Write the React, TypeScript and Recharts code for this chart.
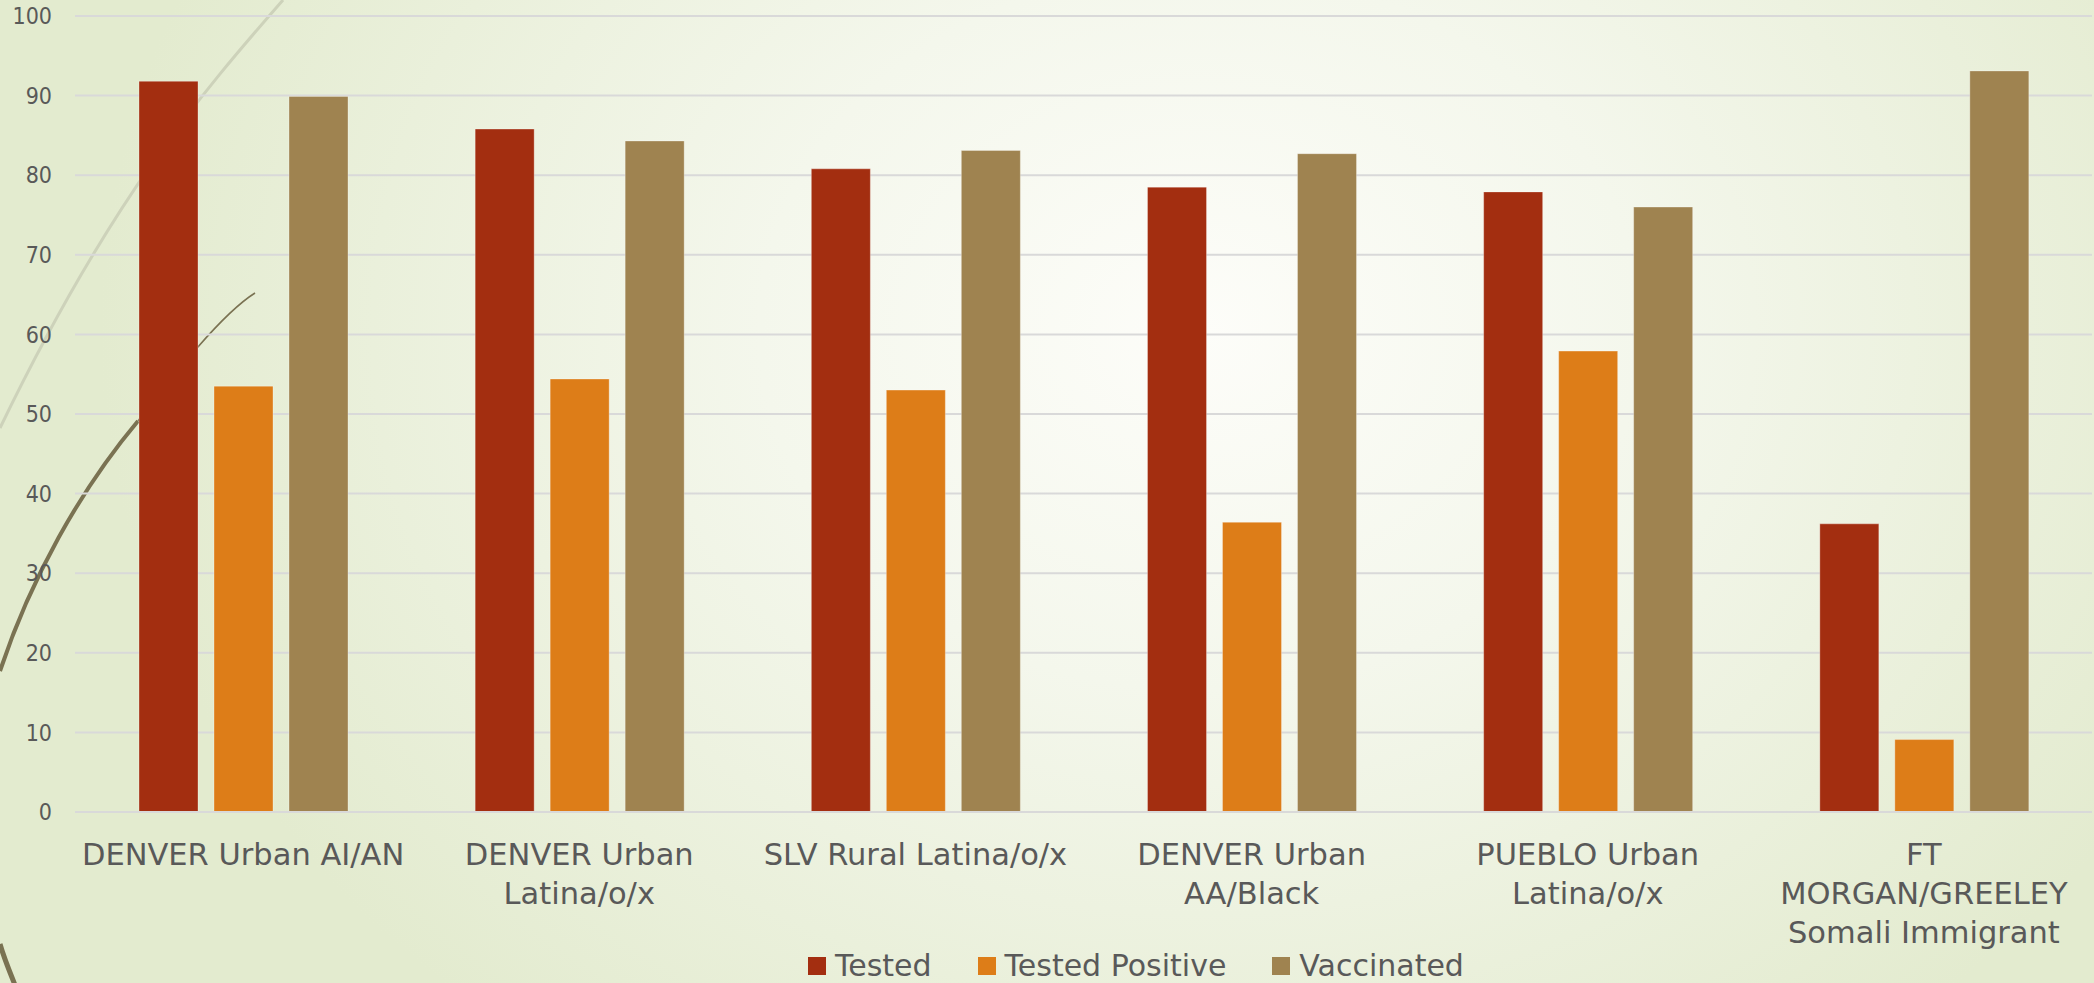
import { Bar, BarChart, CartesianGrid, Legend, XAxis, YAxis } from "recharts";

// Category labels, one entry per line of the wrapped tick text
const categoryLines: string[][] = [
  ["DENVER Urban AI/AN"],
  ["DENVER Urban", "Latina/o/x"],
  ["SLV Rural Latina/o/x"],
  ["DENVER Urban", "AA/Black"],
  ["PUEBLO Urban", "Latina/o/x"],
  ["FT", "MORGAN/GREELEY", "Somali Immigrant"],
];
const categories = categoryLines.map((lines) => lines.join(" "));

const tested = [91.8, 85.8, 80.8, 78.5, 77.9, 36.2];
const testedPositive = [53.5, 54.4, 53.0, 36.4, 57.9, 9.1];
const vaccinated = [89.9, 84.3, 83.1, 82.7, 76.0, 93.1];

const yTicks = [0, 10, 20, 30, 40, 50, 60, 70, 80, 90, 100];

const data = categories.map((name, i) => ({
  name,
  tested: tested[i],
  testedPositive: testedPositive[i],
  vaccinated: vaccinated[i],
}));

const FONT = "'DejaVu Sans', Verdana, sans-serif";
const TEXT = "#595959";
const GRID = "#D9D9D9";

function CategoryTick({ x, y, index }: any) {
  const lines = categoryLines[index] ?? [];
  return (
    <text
      x={x}
      y={y + 53}
      textAnchor="middle"
      fill={TEXT}
      fontSize={30.5}
      fontFamily={FONT}
    >
      {lines.map((line, i) => (
        <tspan key={i} x={x} dy={i === 0 ? 0 : 39}>
          {line}
        </tspan>
      ))}
    </text>
  );
}

function LegendRow({ payload }: any) {
  return (
    <div style={{ display: "flex", alignItems: "center", fontFamily: FONT }}>
      {(payload ?? []).map((p: any, i: number) => (
        <div
          key={p.value}
          style={{ display: "flex", alignItems: "center", marginLeft: i === 0 ? 0 : 46 }}
        >
          <span style={{ width: 18, height: 18, background: p.color, display: "inline-block" }} />
          <span style={{ marginLeft: 9, fontSize: 30, color: TEXT, lineHeight: "36px" }}>
            {p.value}
          </span>
        </div>
      ))}
    </div>
  );
}

// Theme swirls drawn behind the plot
function Swirls() {
  return (
    <svg
      width={2094}
      height={983}
      style={{ position: "absolute", left: 0, top: 0 }}
    >
      <path
        d="M 283 0 C 200 95, 110 200, 0 428"
        fill="none"
        stroke="#CDD2BA"
        strokeWidth={3}
      />
      <path
        d="M 255 293 C 220 315, 170 380, 138 421"
        fill="none"
        stroke="#7A7252"
        strokeWidth={1.6}
      />
      <path
        d="M 138 421 C 80 490, 30 580, 0 671"
        fill="none"
        stroke="#7A7252"
        strokeWidth={4}
      />
      <path
        d="M 0 944 C 4 958, 9 970, 15 985"
        fill="none"
        stroke="#7A7252"
        strokeWidth={5}
      />
    </svg>
  );
}

export default function App() {
  return (
    <div
      style={{
        position: "relative",
        width: 2094,
        height: 983,
        overflow: "hidden",
        background:
          "radial-gradient(ellipse 1100px 900px at 1200px 330px, #fdfdf9 0%, #f4f7ec 40%, #e3ebcf 100%)",
      }}
    >
      <style>{"body{margin:0}"}</style>
      <Swirls />
      <div style={{ position: "absolute", left: 0, top: 0 }}>
        <BarChart
          width={2094}
          height={983}
          data={data}
          margin={{ top: 16, right: 2, bottom: 71, left: 0 }}
          barSize={59}
          barGap={16}
        >
          <CartesianGrid vertical={false} stroke={GRID} strokeWidth={2} />
          <XAxis
            dataKey="name"
            height={100}
            axisLine={{ stroke: GRID, strokeWidth: 2 }}
            tickLine={false}
            tickSize={0}
            tickMargin={0}
            interval={0}
            tick={<CategoryTick />}
          />
          <YAxis
            width={75}
            domain={[0, 100]}
            ticks={yTicks}
            axisLine={false}
            tickLine={false}
            tickSize={0}
            tickMargin={23}
            tick={{ fill: TEXT, fontSize: 23, fontFamily: "'DejaVu Sans Condensed', 'DejaVu Sans', sans-serif" }}
          />
          <Legend
            layout="horizontal"
            verticalAlign="middle"
            align="center"
            content={<LegendRow />}
            wrapperStyle={{ left: 808, top: 948, width: "auto" }}
          />
          <Bar
            dataKey="tested"
            name="Tested"
            fill="#A32E10"
            stroke="rgba(255,255,255,0.3)"
            strokeWidth={1}
            isAnimationActive={false}
          />
          <Bar
            dataKey="testedPositive"
            name="Tested Positive"
            fill="#DD7D18"
            stroke="rgba(255,255,255,0.3)"
            strokeWidth={1}
            isAnimationActive={false}
          />
          <Bar
            dataKey="vaccinated"
            name="Vaccinated"
            fill="#9F8350"
            stroke="rgba(255,255,255,0.3)"
            strokeWidth={1}
            isAnimationActive={false}
          />
        </BarChart>
      </div>
    </div>
  );
}
